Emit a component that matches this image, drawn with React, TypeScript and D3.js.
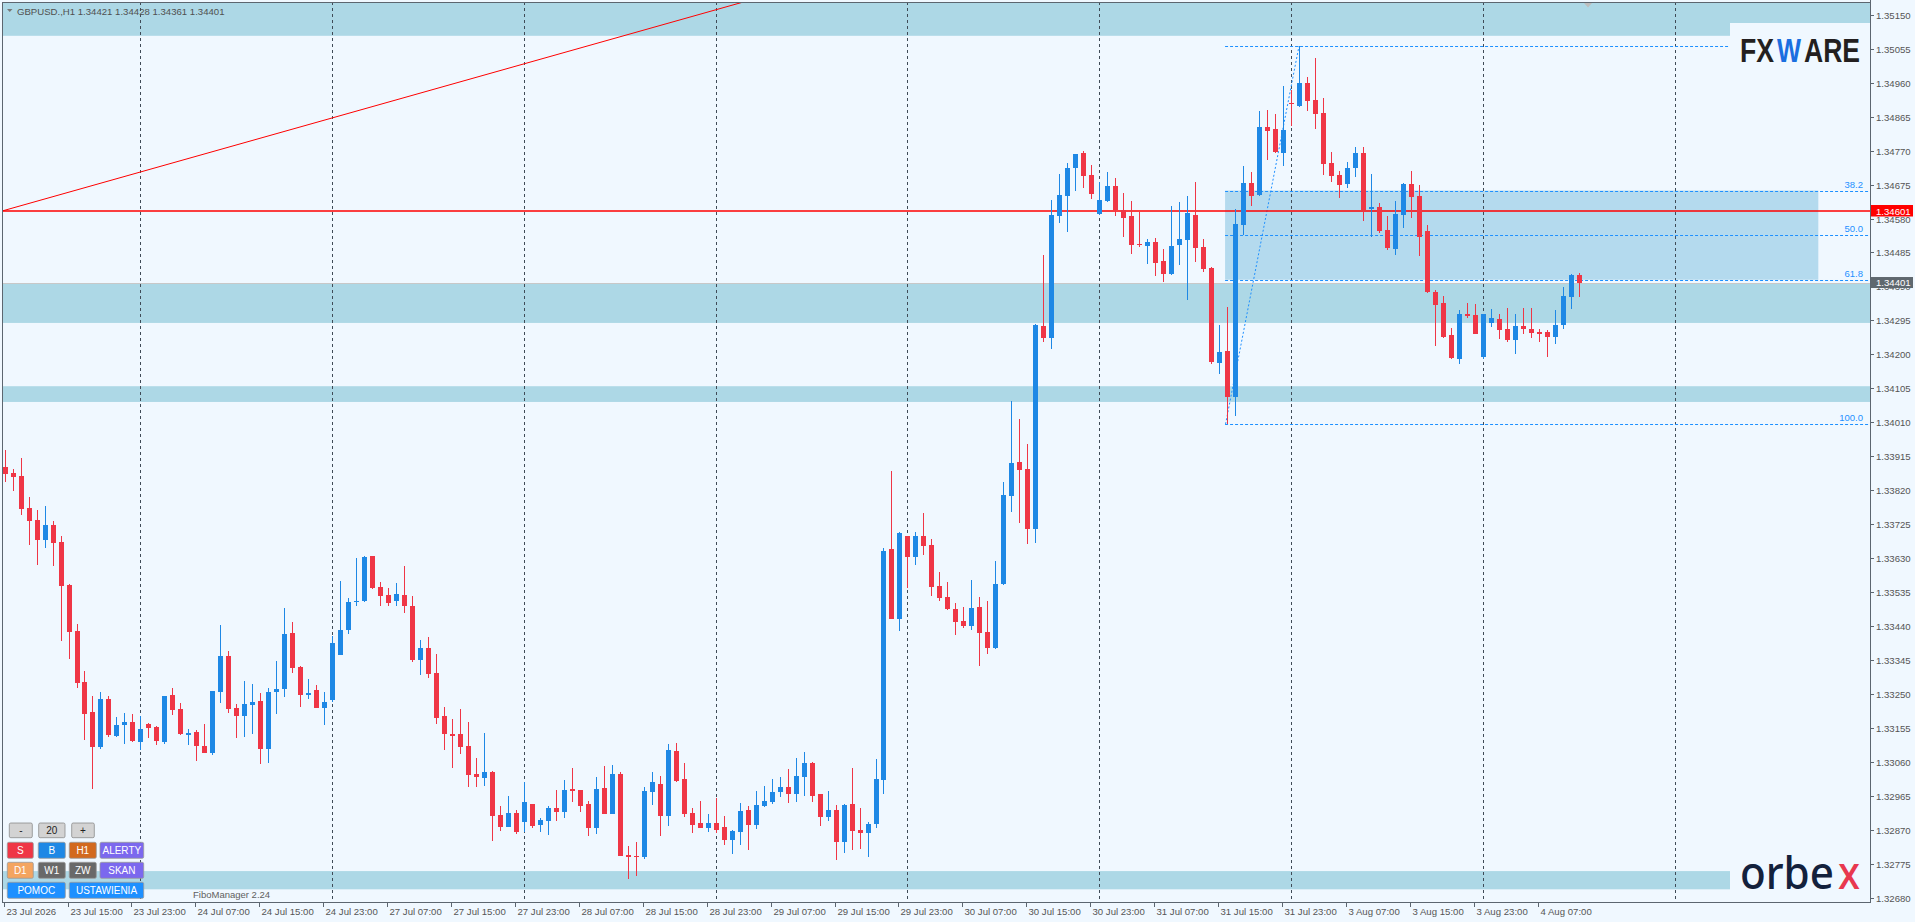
import * as d3 from "d3";

// GBPUSD H1 candles, index 0 = 23 Jul 07:00
const opens = [
  1.33885, 1.33868, 1.33859, 1.3377, 1.33736, 1.33681, 1.33722, 1.33675, 1.33555, 1.33426,
  1.33283, 1.332, 1.33102, 1.33236, 1.33133, 1.33164, 1.33172, 1.33116, 1.33166, 1.33158,
  1.33116, 1.33247, 1.33208, 1.33136, 1.33144, 1.33104, 1.33086, 1.33256, 1.33356, 1.33211,
  1.33189, 1.3322, 1.3323, 1.33097, 1.33256, 1.33265, 1.3342, 1.33325, 1.33248, 1.33261,
  1.33212, 1.33234, 1.3336, 1.33428, 1.33508, 1.33509, 1.33636, 1.3355, 1.33527, 1.33509,
  1.33527, 1.33496, 1.33344, 1.33379, 1.33309, 1.33189, 1.33138, 1.33138, 1.33105, 1.33027,
  1.33016, 1.33032, 1.32912, 1.32879, 1.32918, 1.32891, 1.32943, 1.32885, 1.32896, 1.32932,
  1.32921, 1.32985, 1.32982, 1.32943, 1.32876, 1.32987, 1.32916, 1.33027, 1.328, 1.32797,
  1.32793, 1.32977, 1.32998, 1.3291, 1.33091, 1.33012, 1.32917, 1.32889, 1.32876, 1.32889,
  1.32878, 1.32843, 1.32865, 1.32925, 1.32885, 1.32937, 1.32948, 1.32976, 1.3299, 1.3297,
  1.33018, 1.33057, 1.3297, 1.32906, 1.32925, 1.32836, 1.32942, 1.3287, 1.32862, 1.32886,
  1.33009, 1.33655, 1.3346, 1.33692, 1.33633, 1.33692, 1.33666, 1.33552, 1.33521, 1.33488,
  1.33454, 1.3344, 1.33493, 1.33423, 1.33378, 1.33557, 1.33803, 1.33898, 1.33879, 1.33711,
  1.34279, 1.34245, 1.34586, 1.34642, 1.34721, 1.34763, 1.34701, 1.34592, 1.34628, 1.3467,
  1.34603, 1.34586, 1.34508, 1.34503, 1.34514, 1.34461, 1.34424, 1.34505, 1.34519, 1.34589,
  1.345, 1.34441, 1.34175, 1.34209, 1.3408, 1.34561, 1.34679, 1.34647, 1.34836, 1.3483,
  1.34764, 1.34904, 1.34894, 1.34959, 1.34911, 1.34875, 1.34735, 1.34702, 1.34677, 1.34722,
  1.34763, 1.34606, 1.34612, 1.34548, 1.34496, 1.34591, 1.34676, 1.34643, 1.34545, 1.34374,
  1.34344, 1.34254, 1.34188, 1.34313, 1.3431, 1.34193, 1.34289, 1.34299, 1.34271, 1.34241,
  1.34279, 1.34271, 1.34262, 1.34262, 1.34249, 1.34283, 1.34361, 1.34421,
];
const highs = [
  1.33932, 1.33879, 1.3391, 1.33801, 1.33764, 1.33775, 1.33733, 1.33691, 1.33559, 1.33446,
  1.33314, 1.33244, 1.33255, 1.33244, 1.33186, 1.33197, 1.33194, 1.33188, 1.33169, 1.33161,
  1.33246, 1.33267, 1.33224, 1.33152, 1.33149, 1.33166, 1.33258, 1.33443, 1.3337, 1.33222,
  1.33286, 1.33278, 1.33253, 1.33267, 1.33342, 1.3349, 1.33451, 1.33328, 1.33292, 1.33275,
  1.33255, 1.33413, 1.33566, 1.33519, 1.33631, 1.33636, 1.33637, 1.33564, 1.33547, 1.33561,
  1.33608, 1.33524, 1.33401, 1.3341, 1.33362, 1.33214, 1.3318, 1.33208, 1.33172, 1.33071,
  1.33141, 1.33035, 1.32937, 1.32965, 1.32926, 1.33004, 1.32944, 1.32904, 1.32937, 1.32982,
  1.3301, 1.33043, 1.32983, 1.32951, 1.33018, 1.33049, 1.33052, 1.33032, 1.32825, 1.32836,
  1.3299, 1.33032, 1.3302, 1.3311, 1.33113, 1.33057, 1.32931, 1.32951, 1.32914, 1.32959,
  1.32909, 1.3287, 1.32945, 1.32937, 1.32979, 1.32993, 1.33012, 1.33018, 1.3304, 1.33071,
  1.33088, 1.3306, 1.32971, 1.32979, 1.32939, 1.32942, 1.33043, 1.32931, 1.32892, 1.33068,
  1.33658, 1.33874, 1.33703, 1.33693, 1.33703, 1.33756, 1.33683, 1.33591, 1.33563, 1.33504,
  1.33493, 1.33569, 1.33521, 1.3351, 1.33622, 1.33843, 1.34069, 1.34019, 1.33949, 1.34285,
  1.34477, 1.34631, 1.34704, 1.34735, 1.34761, 1.34768, 1.34729, 1.34682, 1.3471, 1.34693,
  1.34651, 1.34628, 1.34598, 1.34522, 1.34525, 1.34494, 1.34614, 1.34626, 1.34642, 1.34682,
  1.34522, 1.34444, 1.34282, 1.34332, 1.34606, 1.34726, 1.34709, 1.3488, 1.34883, 1.34872,
  1.3495, 1.34939, 1.35062, 1.34976, 1.35029, 1.34917, 1.34766, 1.34713, 1.34738, 1.3478,
  1.3478, 1.34704, 1.34623, 1.34587, 1.34629, 1.34679, 1.34713, 1.34674, 1.34562, 1.3438,
  1.34363, 1.34274, 1.34324, 1.34344, 1.34341, 1.34314, 1.34327, 1.34313, 1.34329, 1.34313,
  1.34329, 1.34329, 1.34271, 1.34268, 1.34324, 1.34388, 1.34425, 1.34428,
];
const lows = [
  1.33843, 1.33818, 1.33751, 1.33667, 1.33611, 1.33659, 1.33609, 1.33399, 1.33349, 1.33268,
  1.33122, 1.32985, 1.33097, 1.3313, 1.3313, 1.33111, 1.33117, 1.33094, 1.33128, 1.33108,
  1.33111, 1.33192, 1.33136, 1.33108, 1.33063, 1.33085, 1.3308, 1.33226, 1.33198, 1.33128,
  1.3313, 1.33139, 1.33055, 1.33058, 1.33195, 1.33242, 1.33309, 1.33214, 1.33237, 1.3321,
  1.33164, 1.33229, 1.33358, 1.33419, 1.33495, 1.33507, 1.33544, 1.33497, 1.33497, 1.33497,
  1.33478, 1.33341, 1.33304, 1.33296, 1.33167, 1.33095, 1.33042, 1.33083, 1.32991, 1.32991,
  1.32994, 1.3284, 1.32868, 1.32877, 1.3286, 1.32865, 1.32876, 1.32865, 1.32857, 1.32896,
  1.32904, 1.32949, 1.32921, 1.32854, 1.3286, 1.32915, 1.32915, 1.32796, 1.32734, 1.32742,
  1.3279, 1.32939, 1.32854, 1.32882, 1.33005, 1.32907, 1.32862, 1.32875, 1.32865, 1.32862,
  1.32829, 1.32803, 1.32829, 1.32814, 1.32873, 1.32934, 1.32942, 1.32962, 1.32945, 1.32948,
  1.32965, 1.32948, 1.32881, 1.32895, 1.32786, 1.32806, 1.32814, 1.32817, 1.32795, 1.32876,
  1.3297, 1.33459, 1.33426, 1.33546, 1.33611, 1.33639, 1.33524, 1.3351, 1.33485, 1.33415,
  1.33434, 1.33429, 1.33328, 1.33362, 1.33377, 1.33555, 1.33759, 1.33728, 1.33669, 1.33672,
  1.34234, 1.34214, 1.34567, 1.34542, 1.34656, 1.34665, 1.34634, 1.3459, 1.34627, 1.34586,
  1.34528, 1.3448, 1.345, 1.34452, 1.34419, 1.34402, 1.34423, 1.34449, 1.34352, 1.34458,
  1.3443, 1.34173, 1.34145, 1.34005, 1.34027, 1.34533, 1.34614, 1.34644, 1.34744, 1.34764,
  1.34727, 1.34839, 1.34893, 1.34881, 1.34831, 1.34703, 1.34683, 1.34638, 1.34666, 1.34697,
  1.34574, 1.34529, 1.3454, 1.34493, 1.34479, 1.34554, 1.34582, 1.34476, 1.34372, 1.34224,
  1.34247, 1.34188, 1.34174, 1.34303, 1.34257, 1.34188, 1.34277, 1.34244, 1.34235, 1.34202,
  1.34258, 1.34247, 1.34235, 1.34193, 1.3423, 1.34272, 1.34328, 1.34361,
];
const closes = [
  1.33866, 1.33857, 1.33768, 1.33734, 1.33681, 1.33722, 1.33673, 1.33553, 1.33424, 1.33281,
  1.33195, 1.33102, 1.33236, 1.33135, 1.33163, 1.33172, 1.33119, 1.33152, 1.33156, 1.33119,
  1.33244, 1.33206, 1.33139, 1.33141, 1.33104, 1.33086, 1.33258, 1.33356, 1.33209, 1.33189,
  1.33222, 1.33227, 1.33097, 1.33255, 1.33264, 1.33418, 1.33323, 1.33248, 1.33253, 1.33212,
  1.33227, 1.33393, 1.33429, 1.33508, 1.33511, 1.33634, 1.33548, 1.33525, 1.33506, 1.3353,
  1.33497, 1.33344, 1.33379, 1.33307, 1.33184, 1.33137, 1.33134, 1.33103, 1.33025, 1.33019,
  1.33032, 1.3291, 1.32879, 1.32918, 1.32865, 1.32948, 1.32882, 1.32898, 1.32932, 1.32919,
  1.32982, 1.3298, 1.32938, 1.32876, 1.32985, 1.32916, 1.33027, 1.32798, 1.32795, 1.32793,
  1.32979, 1.33004, 1.3291, 1.33093, 1.33008, 1.32915, 1.32885, 1.32876, 1.32889, 1.32871,
  1.32843, 1.32867, 1.32923, 1.32885, 1.32939, 1.32951, 1.32976, 1.3299, 1.3297, 1.3302,
  1.33057, 1.32965, 1.32906, 1.32925, 1.32836, 1.32939, 1.32868, 1.32862, 1.32886, 1.33012,
  1.3365, 1.3346, 1.337, 1.33633, 1.33692, 1.33664, 1.33549, 1.33518, 1.33488, 1.33451,
  1.3344, 1.3349, 1.3342, 1.33378, 1.33557, 1.33806, 1.33896, 1.33876, 1.33711, 1.34282,
  1.34245, 1.34589, 1.34645, 1.34721, 1.3476, 1.34698, 1.34648, 1.34631, 1.3467, 1.34603,
  1.34581, 1.34505, 1.34505, 1.34514, 1.34455, 1.34424, 1.34503, 1.34522, 1.34595, 1.34497,
  1.34438, 1.34178, 1.34206, 1.3408, 1.34564, 1.34679, 1.34642, 1.34836, 1.34826, 1.34767,
  1.34827, 1.349, 1.34959, 1.34909, 1.34873, 1.34733, 1.347, 1.34674, 1.34721, 1.34763,
  1.34604, 1.34612, 1.34546, 1.34497, 1.34592, 1.34676, 1.34641, 1.34529, 1.34375, 1.34339,
  1.34249, 1.34191, 1.34313, 1.34308, 1.34258, 1.34313, 1.34302, 1.34269, 1.34241, 1.3428,
  1.34272, 1.34261, 1.34258, 1.34249, 1.34282, 1.34363, 1.34422, 1.34401,
];

const timeLabels = [
  "23 Jul 2026", "23 Jul 15:00", "23 Jul 23:00", "24 Jul 07:00", "24 Jul 15:00",
  "24 Jul 23:00", "27 Jul 07:00", "27 Jul 15:00", "27 Jul 23:00", "28 Jul 07:00",
  "28 Jul 15:00", "28 Jul 23:00", "29 Jul 07:00", "29 Jul 15:00", "29 Jul 23:00",
  "30 Jul 07:00", "30 Jul 15:00", "30 Jul 23:00", "31 Jul 07:00", "31 Jul 15:00",
  "31 Jul 23:00", "3 Aug 07:00", "3 Aug 15:00", "3 Aug 23:00", "4 Aug 07:00",
];
const priceTicks = [
  "1.35150", "1.35055", "1.34960", "1.34865", "1.34770", "1.34675", "1.34580", "1.34485",
  "1.34390", "1.34295", "1.34200", "1.34105", "1.34010", "1.33915", "1.33820", "1.33725",
  "1.33630", "1.33535", "1.33440", "1.33345", "1.33250", "1.33155", "1.33060", "1.32965",
  "1.32870", "1.32775", "1.32680",
];
// bars where a new day starts (period separators)
const daySeparators = [17, 41, 65, 89, 113, 137, 161, 185, 209];

// support / resistance zones [top, bottom]
const zoneTops = [1.3525, 1.34399, 1.34111, 1.32755];
const zoneBottoms = [1.35091, 1.34288, 1.34067, 1.32704];

const fibHigh = 1.35062;
const fibLow = 1.34005;
const fibStartBar = 153;
const fibHighBar = 162;
const fibEndBar = 227;
const fibLevels = [0, 38.2, 50.0, 61.8, 100.0];

const redLevel = 1.34601;
const lastPrice = 1.34401;
const trendBars = [0, 80];
const trendPrices = [1.34603, 1.35107];

const BULL = "#1E88E5";
const BEAR = "#EF3646";
const BG = "#F0F8FF";
const ZONE = "#ADD8E6";
const FIB = "#1E90FF";
const AXIS_TEXT = "#555555";
const FONT = "'Liberation Sans', Arial, sans-serif";

const W = 1915;
const H = 922;
const left = 2;
const top = 2;
const right = 1870;
const bottom = 902;

const buttons = [
  { t: "-", x0: 9.3, x1: 32.3, row: 0, fill: "#D3D3D3", fg: "#222" },
  { t: "20", x0: 38.7, x1: 65, row: 0, fill: "#D3D3D3", fg: "#222" },
  { t: "+", x0: 71.7, x1: 94.3, row: 0, fill: "#D3D3D3", fg: "#222" },
  { t: "S", x0: 7.3, x1: 33.3, row: 1, fill: "#EF3646", fg: "#fff" },
  { t: "B", x0: 38.3, x1: 65.3, row: 1, fill: "#1E88E5", fg: "#fff" },
  { t: "H1", x0: 69.3, x1: 96.3, row: 1, fill: "#D2691E", fg: "#fff" },
  { t: "ALERTY", x0: 100, x1: 143.7, row: 1, fill: "#7B68EE", fg: "#fff" },
  { t: "D1", x0: 7.3, x1: 33.3, row: 2, fill: "#F4A460", fg: "#fff" },
  { t: "W1", x0: 38.3, x1: 65.3, row: 2, fill: "#696969", fg: "#fff" },
  { t: "ZW", x0: 69.3, x1: 96.3, row: 2, fill: "#696969", fg: "#fff" },
  { t: "SKAN", x0: 100, x1: 143.7, row: 2, fill: "#7B68EE", fg: "#fff" },
  { t: "POMOC", x0: 7.3, x1: 65.3, row: 3, fill: "#1E90FF", fg: "#fff" },
  { t: "USTAWIENIA", x0: 69.3, x1: 143.7, row: 3, fill: "#1E90FF", fg: "#fff" },
];
const rowTops = [823, 842.3, 862.3, 882.3];
const rowHeights = [14.7, 16, 16, 16];

export default function App() {
  const x = d3.scaleLinear().domain([0, 209]).range([4.6, 1674.5]);
  const y = d3.scaleLinear().domain([1.3515, 1.3268]).range([14.7, 897.9]);

  const fibY = (lvl: number) => y(fibHigh - (fibHigh - fibLow) * lvl / 100);
  const trendSlope = (y(trendPrices[1]) - y(trendPrices[0])) / (x(trendBars[1]) - x(trendBars[0]));
  const trendY = (px: number) => y(trendPrices[0]) + (px - x(trendBars[0])) * trendSlope;

  return (
    <svg width={W} height={H} viewBox={`0 0 ${W} ${H}`}
      style={{ position: "absolute", left: 0, top: 0, background: BG, fontFamily: FONT }}>
      <defs>
        <clipPath id="plot">
          <rect x={left} y={top} width={right - left} height={bottom - top} />
        </clipPath>
      </defs>
      <rect x={0} y={0} width={W} height={H} fill={BG} />

      <g clipPath="url(#plot)">
        {zoneTops.map((t, i) => (
          <rect key={i} x={left} y={y(t)} width={right - left}
            height={y(zoneBottoms[i]) - y(t)} fill={ZONE} />
        ))}
        {/* fibo zone between 38.2 and 61.8 */}
        <rect x={x(fibStartBar) - 2} y={fibY(38.2)} width={x(fibEndBar) - x(fibStartBar) + 2}
          height={fibY(61.8) - fibY(38.2)} fill="#B4DAEE" />

        {daySeparators.map(d => (
          <line key={d} x1={Math.round(x(d)) + 0.5} x2={Math.round(x(d)) + 0.5} y1={top} y2={bottom}
            stroke="#3F4B57" strokeDasharray="3,3" />
        ))}

        {fibLevels.map(l => (
          <g key={l}>
            <line x1={x(fibStartBar) - 2} x2={right} y1={Math.round(fibY(l)) + 0.5}
              y2={Math.round(fibY(l)) + 0.5} stroke={FIB} strokeDasharray="3,2" />
            {l > 0 && (
              <text x={1863} y={fibY(l) - 3} textAnchor="end" fontSize={9.5} fill={FIB}>
                {l.toFixed(1)}
              </text>
            )}
          </g>
        ))}
        <line x1={x(fibStartBar) - 1.5} y1={y(fibLow)} x2={x(fibHighBar)} y2={y(fibHigh)}
          stroke={FIB} strokeDasharray="2,2" />

        <line x1={left} x2={right} y1={y(redLevel)} y2={y(redLevel)} stroke="#FF0000" strokeWidth={1.3} />
        <line x1={left} y1={trendY(left)} x2={900} y2={trendY(900)} stroke="#FF0000" strokeWidth={1} />
        <line x1={left} x2={right} y1={Math.round(y(lastPrice)) + 0.5} y2={Math.round(y(lastPrice)) + 0.5}
          stroke="#C8C8C8" strokeWidth={1} />

        {opens.map((o, i) => {
          const c = closes[i];
          const col = c >= o ? BULL : BEAR;
          const cx = Math.round(x(i));
          const yt = y(Math.max(o, c));
          const yb = y(Math.min(o, c));
          return (
            <g key={i} shapeRendering="crispEdges">
              <line x1={cx + 0.5} x2={cx + 0.5} y1={y(highs[i])} y2={y(lows[i])} stroke={col} />
              <rect x={cx - 2} y={yt} width={5} height={Math.max(1.2, yb - yt)} fill={col} />
            </g>
          );
        })}

        {/* logo boxes */}
        <rect x={1730} y={23} width={140} height={52} fill={BG} />
        <rect x={1730} y={848} width={140} height={54} fill={BG} />
      </g>

      {/* header */}
      <path d="M7,9 L12.5,9 L9.75,12 Z" fill="#777" />
      <text x={17} y={14.5} fontSize={9.6} fill="#505050">
        GBPUSD.,H1  1.34421 1.34428 1.34361 1.34401
      </text>
      <path d="M1584,3 L1592,3 L1588,7.5 Z" fill="#BDBDBD" />

      {/* logos */}
      <text x={1740} y={62} fontSize={33} fontWeight={700} fill="#231F20"
        textLength={34} lengthAdjust="spacingAndGlyphs">FX</text>
      <text x={1777} y={62} fontSize={33} fontWeight={700} fill="#1A6FE0"
        textLength={24} lengthAdjust="spacingAndGlyphs">W</text>
      <text x={1804} y={62} fontSize={33} fontWeight={700} fill="#231F20"
        textLength={56} lengthAdjust="spacingAndGlyphs">ARE</text>
      <text x={1740} y={889} fontSize={46} fontWeight={500} fill="#13213C"
        textLength={94} lengthAdjust="spacingAndGlyphs" fontFamily="'Noto Sans', sans-serif">orbe</text>
      <text x={1838} y={889} fontSize={46} fontWeight={500} fill="#E8384F"
        textLength={22} lengthAdjust="spacingAndGlyphs" fontFamily="'Noto Sans', sans-serif">x</text>

      {/* frame */}
      <line x1={left + 0.5} x2={left + 0.5} y1={top} y2={bottom} stroke="#5C6670" />
      <line x1={left} x2={right} y1={top + 0.5} y2={top + 0.5} stroke="#5C6670" />
      <line x1={right + 0.5} x2={right + 0.5} y1={0} y2={bottom + 1} stroke="#5C6670" />
      <line x1={left} x2={right + 1} y1={bottom + 0.5} y2={bottom + 0.5} stroke="#5C6670" />

      {/* price axis */}
      {priceTicks.map(t => {
        const py = Math.round(y(+t)) + 0.5;
        return (
          <g key={t}>
            <line x1={right} x2={right + 4} y1={py} y2={py} stroke="#5C6670" />
            <text x={1876} y={py + 3.5} fontSize={9.6} fill={AXIS_TEXT}>{t}</text>
          </g>
        );
      })}
      <rect x={1871} y={y(redLevel) - 6} width={42} height={11.5} fill="#FF0000" />
      <text x={1876} y={y(redLevel) + 3.5} fontSize={9.6} fill="#fff">{redLevel.toFixed(5)}</text>
      <rect x={1871} y={y(lastPrice) - 5.5} width={42} height={11} fill="#5F686F" />
      <text x={1876} y={y(lastPrice) + 3.5} fontSize={9.6} fill="#fff">{lastPrice.toFixed(5)}</text>

      {/* time axis */}
      {timeLabels.map((t, k) => {
        const tx = Math.round(x(k * 8)) - 0.5;
        return (
          <g key={t}>
            <line x1={tx} x2={tx} y1={bottom} y2={bottom + 5} stroke="#5C6670" />
            <text x={tx + 2} y={915} fontSize={9.6} fill={AXIS_TEXT}>{t}</text>
          </g>
        );
      })}

      {/* control panel */}
      {buttons.map(b => (
        <g key={b.t}>
          <rect x={b.x0} y={rowTops[b.row]} width={b.x1 - b.x0} height={rowHeights[b.row]}
            rx={1.5} fill={b.fill} stroke={b.row === 0 ? "#8A8A8A" : "#9A9A9A"} strokeWidth={0.8} />
          <text x={(b.x0 + b.x1) / 2} y={rowTops[b.row] + rowHeights[b.row] / 2 + 3.6}
            textAnchor="middle" fontSize={10} fill={b.fg}>{b.t}</text>
        </g>
      ))}
      <text x={193} y={898} fontSize={9.5} fill="#606060">FiboManager 2.24</text>
    </svg>
  );
}
